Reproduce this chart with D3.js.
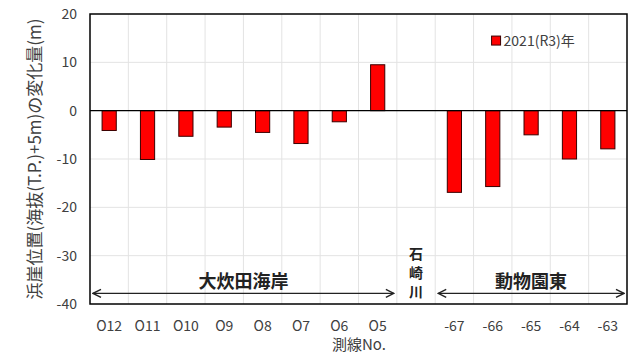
<!DOCTYPE html>
<html>
<head>
<meta charset="utf-8">
<script src="https://cdn.jsdelivr.net/npm/d3@7"></script>
<style>
  body { margin: 0; background: #fff; }
  text { font-family: "Noto Sans CJK JP", "Noto Sans", sans-serif; }
</style>
</head>
<body>
<svg id="chart" width="630" height="355"></svg>
<script>
var categories = ["O12", "O11", "O10", "O9", "O8", "O7", "O6", "O5", "", "-67", "-66", "-65", "-64", "-63"];
var values     = [-4.1, -10.1, -5.3, -3.4, -4.5, -6.8, -2.3, 9.5, null, -16.9, -15.7, -5.0, -10.0, -7.9];
var yTicks     = [20, 10, 0, -10, -20, -30, -40];
var seriesName = "2021(R3)年";
var sections   = [
  {label: "大炊田海岸", from: "O12", to: "O5"},
  {label: "動物園東", from: "-67", to: "-63"}
];
var riverLabel = ["石", "崎", "川"];

var svg = d3.select("#chart");
var margin = {top: 14, right: 3, bottom: 51, left: 90},
    width  = 630 - margin.left - margin.right,
    height = 355 - margin.top - margin.bottom;

var x = d3.scaleBand().domain(d3.range(categories.length)).range([0, width]).paddingInner(0.63).paddingOuter(0.315);
var xb = d3.scaleBand().domain(d3.range(categories.length)).range([0, width]);
var y = d3.scaleLinear().domain([-40, 20]).range([height, 0]);

var g = svg.append("g").attr("transform", `translate(${margin.left},${margin.top})`);

/* grid */
for (var i = 1; i < categories.length; i++) {
  g.append("line")
    .attr("x1", xb(i)).attr("x2", xb(i))
    .attr("y1", 0).attr("y2", height)
    .style("stroke", "#e3e3e3").style("stroke-width", 1);
}
yTicks.forEach(function(t) {
  if (t === 20 || t === -40 || t === 0) return;
  g.append("line")
    .attr("x1", 0).attr("x2", width)
    .attr("y1", y(t)).attr("y2", y(t))
    .style("stroke", "#e3e3e3").style("stroke-width", 1);
});

/* bars */
values.forEach(function(v, i) {
  if (v === null) return;
  g.append("rect")
    .attr("x", x(i))
    .attr("y", y(Math.max(0, v)))
    .attr("width", x.bandwidth())
    .attr("height", Math.abs(y(v) - y(0)))
    .style("fill", "#ff0000")
    .style("stroke", "#3a0000")
    .style("stroke-width", 1);
});

/* zero line and frame */
g.append("line")
  .attr("x1", 0).attr("x2", width)
  .attr("y1", y(0)).attr("y2", y(0))
  .style("stroke", "#000").style("stroke-width", 1.3);
g.append("rect")
  .attr("x", 0).attr("y", 0).attr("width", width).attr("height", height)
  .style("fill", "none").style("stroke", "#000").style("stroke-width", 1.5);

/* y tick labels */
yTicks.forEach(function(t) {
  g.append("text")
    .attr("x", -13)
    .attr("y", y(t) + 5)
    .style("text-anchor", "end")
    .style("font-size", "14px")
    .style("fill", "#404040")
    .text(t);
});

/* x tick labels */
categories.forEach(function(c, i) {
  g.append("text")
    .attr("x", xb(i) + xb.bandwidth() / 2)
    .attr("y", height + 27)
    .style("text-anchor", "middle")
    .style("font-size", "14px")
    .style("fill", "#404040")
    .text(c);
});

/* axis titles */
svg.append("text")
  .attr("transform", `translate(41, ${margin.top + height / 2}) rotate(-90)`)
  .style("text-anchor", "middle")
  .style("font-size", "17px")
  .style("fill", "#404040")
  .text("浜崖位置(海抜(T.P.)+5m)の変化量(m)");

svg.append("text")
  .attr("x", 359)
  .attr("y", 350)
  .style("text-anchor", "middle")
  .style("font-size", "15px")
  .style("fill", "#404040")
  .text("測線No.");

/* section arrows */
var defs = svg.append("defs");
defs.append("marker")
  .attr("id", "arr")
  .attr("viewBox", "0 0 10 10")
  .attr("refX", 9).attr("refY", 5)
  .attr("markerWidth", 10).attr("markerHeight", 10)
  .attr("markerUnits", "userSpaceOnUse")
  .attr("orient", "auto-start-reverse")
  .append("path")
  .attr("d", "M1,1 L9,5 L1,9")
  .style("fill", "none").style("stroke", "#222").style("stroke-width", 1.4);

var arrowY = y(-37.8);
sections.forEach(function(s) {
  var i0 = categories.indexOf(s.from), i1 = categories.indexOf(s.to);
  var x0 = xb(i0) + 3, x1 = xb(i1) + xb.bandwidth() - 3;
  g.append("line")
    .attr("x1", x0).attr("x2", x1)
    .attr("y1", arrowY).attr("y2", arrowY)
    .style("stroke", "#222").style("stroke-width", 1.4)
    .attr("marker-start", "url(#arr)")
    .attr("marker-end", "url(#arr)");
  g.append("text")
    .attr("x", (x0 + x1) / 2)
    .attr("y", arrowY - 5)
    .style("text-anchor", "middle")
    .style("font-size", "18px")
    .style("font-weight", "bold")
    .style("fill", "#222")
    .text(s.label);
});

var ri = categories.indexOf("");
riverLabel.forEach(function(ch, k) {
  g.append("text")
    .attr("x", xb(ri) + xb.bandwidth() / 2)
    .attr("y", y(-30) + 3 + k * 19)
    .style("text-anchor", "middle")
    .style("font-size", "14px")
    .style("font-weight", "bold")
    .style("fill", "#222")
    .text(ch);
});

/* legend */
var lg = g.append("g").attr("transform", `translate(${xb(10) + 18}, ${y(14.4)})`);
lg.append("rect")
  .attr("x", 0).attr("y", -5).attr("width", 9).attr("height", 9)
  .style("fill", "#ff0000").style("stroke", "#3a0000").style("stroke-width", 1);
lg.append("text")
  .attr("x", 12).attr("y", 5)
  .style("font-size", "14px")
  .style("fill", "#404040")
  .text(seriesName);
</script>
</body>
</html>
